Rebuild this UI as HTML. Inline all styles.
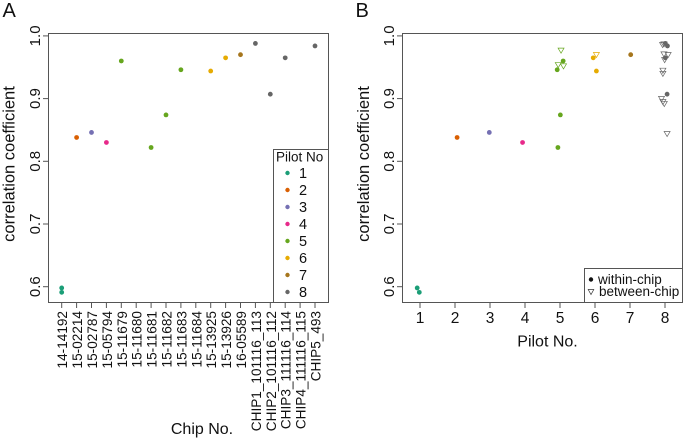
<!DOCTYPE html>
<html lang="en">
<head>
<meta charset="utf-8">
<title>Correlation coefficient by chip and pilot</title>
<style>
html,body{margin:0;padding:0;background:#fff;}
body{width:685px;height:439px;overflow:hidden;}
svg{display:block;font-family:"Liberation Sans",sans-serif;fill:#111;filter:blur(0.35px);}
</style>
</head>
<body>
<svg id="figure" width="685" height="439" viewBox="0 0 685 439" xmlns="http://www.w3.org/2000/svg">
  <text x="2.5" y="17" font-size="20">A</text>
  <text x="355.5" y="17" font-size="20">B</text>

  <rect x="48.5" y="33.5" width="280" height="269" fill="none" stroke="#555" stroke-width="1"/>
  <rect x="402.5" y="33.5" width="280" height="269" fill="none" stroke="#555" stroke-width="1"/>

  <text transform="translate(14.7,164) rotate(-90)" text-anchor="middle" font-size="16.5">correlation coefficient</text>
  <text transform="translate(368.8,164) rotate(-90)" text-anchor="middle" font-size="16.5">correlation coefficient</text>
  <text x="202" y="434" text-anchor="middle" font-size="16">Chip No.</text>
  <text x="547.5" y="346.5" text-anchor="middle" font-size="16">Pilot No.</text>

  <g id="axes"></g>
  <g id="marks-a"></g>
  <g id="marks-b"></g>

  <g id="legend-a">
    <rect x="273.5" y="149.5" width="55" height="153" fill="#fff" stroke="#555" stroke-width="1"/>
    <text x="299.7" y="161.5" text-anchor="middle" font-size="13.5">Pilot No</text>
  </g>

  <g id="legend-b">
    <rect x="584.5" y="268.5" width="98" height="34" fill="#fff" stroke="#555" stroke-width="1"/>
    <circle cx="591" cy="279.5" r="2.2" fill="#111"/>
    <text x="598" y="284" font-size="13.5">within-chip</text>
    <polygon points="588.2,289.5 593.8,289.5 591,294.5" fill="none" stroke="#333" stroke-width="0.7"/>
    <text x="599" y="296" font-size="13.5">between-chip</text>
  </g>
</svg>

<script>
// Shared data
const pilotColors = ['#1B9E77', '#D95F02', '#7570B3', '#E7298A', '#66A61E', '#E6AB02', '#A6761D', '#666666'];
const yTicks = [0.6, 0.7, 0.8, 0.9, 1.0];
const yTickLabels = ['0.6', '0.7', '0.8', '0.9', '1.0'];

// Panel A data
const chipLabels = ['14-14192', '15-02214', '15-02787', '15-05794', '15-11679', '15-11680', '15-11681', '15-11682', '15-11683', '15-11684', '15-13925', '15-13926', '16-05589', 'CHIP1_101116_113', 'CHIP2_101116_112', 'CHIP3_111116_114', 'CHIP4_111116_115', 'CHIP5_493'];
const pointChips = [0, 0, 1, 2, 3, 4, 6, 7, 8, 10, 11, 12, 13, 14, 15, 17];
const pointValues = [0.598, 0.591, 0.838, 0.846, 0.830, 0.960, 0.822, 0.874, 0.946, 0.944, 0.965, 0.970, 0.988, 0.907, 0.965, 0.984];
const pointPilots = [1, 1, 2, 3, 4, 5, 5, 5, 5, 6, 6, 7, 8, 8, 8, 8];

// Panel B data
const pilotTicks = [1, 2, 3, 4, 5, 6, 7, 8];
const withinPilotX = [0.92, 0.98, 2.06, 2.98, 3.93, 4.92, 5.09, 5.01, 4.94, 5.95, 6.04, 7.02, 8.01, 8.07, 8.01, 8.06];
const withinValues = [0.598, 0.591, 0.838, 0.846, 0.830, 0.946, 0.960, 0.874, 0.822, 0.965, 0.944, 0.970, 0.988, 0.984, 0.965, 0.907];
const withinPilots = [1, 1, 2, 3, 4, 5, 5, 5, 5, 6, 6, 7, 8, 8, 8, 8];
const betweenPilotX = [5.03, 4.95, 5.10, 6.04, 7.93, 7.97, 7.97, 8.09, 7.99, 7.94, 7.94, 7.90, 7.94, 7.98, 8.06];
const betweenValues = [0.977, 0.954, 0.952, 0.970, 0.986, 0.987, 0.971, 0.970, 0.962, 0.945, 0.940, 0.900, 0.895, 0.892, 0.844];
const betweenPilots = [5, 5, 5, 6, 8, 8, 8, 8, 8, 8, 8, 8, 8, 8, 8];

// Axis functions
const yScale = v => 286.7 - (v - 0.6) * 627;
const xChip = i => 61.7 + i * 14.9;
const xPilot = p => 420 + (p - 1) * 35;

const NS = 'http://www.w3.org/2000/svg';
function make(tag, parent) {
  const el = document.createElementNS(NS, tag);
  parent.appendChild(el);
  return el;
}
function tickLine(parent, x1, y1, x2, y2) {
  const el = make('line', parent);
  el.setAttribute('x1', x1);
  el.setAttribute('y1', y1);
  el.setAttribute('x2', x2);
  el.setAttribute('y2', y2);
  el.setAttribute('stroke', '#555');
  el.setAttribute('stroke-width', '1');
  return el;
}

const axes = document.getElementById('axes');
const marksA = document.getElementById('marks-a');
const marksB = document.getElementById('marks-b');
const legendA = document.getElementById('legend-a');

// Y axes on both panels
[48.5, 402.5].forEach(function (frameX) {
  yTicks.forEach(function (v, i) {
    const t = tickLine(axes, frameX - 5.5, yScale(v), frameX, yScale(v));
    
    
    const label = make('text', axes);
    
    
    label.setAttribute('transform', 'translate(' + (frameX - 8.3) + ',' + yScale(v) + ') rotate(-90)');
    label.setAttribute('text-anchor', 'middle');
    label.setAttribute('font-size', '15');
    label.textContent = yTickLabels[i];
  });
});

// Panel A x axis
chipLabels.forEach(function (name, i) {
  const t = tickLine(axes, xChip(i), 302.5, xChip(i), 308);
  
  
  const label = make('text', axes);
  
  
  label.setAttribute('transform', 'translate(' + (xChip(i) + 5.5) + ',311) rotate(-90)');
  label.setAttribute('text-anchor', 'end');
  label.setAttribute('font-size', '13.6');
  label.textContent = name;
});

// Panel B x axis
pilotTicks.forEach(function (p) {
  const t = tickLine(axes, xPilot(p), 302.5, xPilot(p), 308);
  
  
  const label = make('text', axes);
  
  
  label.setAttribute('x', xPilot(p));
  label.setAttribute('y', 323);
  label.setAttribute('text-anchor', 'middle');
  label.setAttribute('font-size', '15.5');
  label.textContent = p;
});

// Panel A points
pointValues.forEach(function (v, i) {
  const dot = make('circle', marksA);
  
  
  dot.setAttribute('cx', xChip(pointChips[i]));
  dot.setAttribute('cy', yScale(v));
  dot.setAttribute('r', '2.4');
  dot.setAttribute('fill', pilotColors[pointPilots[i] - 1]);
});

// Panel B between-chip triangles
betweenValues.forEach(function (v, i) {
  const cx = xPilot(betweenPilotX[i]);
  const cy = yScale(v);
  const tri = make('polygon', marksB);
  
  
  tri.setAttribute('points', (cx - 3) + ',' + (cy - 2.2) + ' ' + (cx + 3) + ',' + (cy - 2.2) + ' ' + cx + ',' + (cy + 2.9));
  tri.setAttribute('fill', 'none');
  tri.setAttribute('stroke', pilotColors[betweenPilots[i] - 1]);
  tri.setAttribute('stroke-width', '0.7');
});

// Panel B within-chip points
withinValues.forEach(function (v, i) {
  const dot = make('circle', marksB);
  
  
  dot.setAttribute('cx', xPilot(withinPilotX[i]));
  dot.setAttribute('cy', yScale(v));
  dot.setAttribute('r', '2.4');
  dot.setAttribute('fill', pilotColors[withinPilots[i] - 1]);
});

// Pilot legend entries
pilotColors.forEach(function (color, i) {
  const rowY = 173 + i * 17;
  const swatch = make('circle', legendA);
  
  
  swatch.setAttribute('cx', 287.5);
  swatch.setAttribute('cy', rowY);
  swatch.setAttribute('r', '2.2');
  swatch.setAttribute('fill', color);
  const label = make('text', legendA);
  
  
  label.setAttribute('x', 303);
  label.setAttribute('y', rowY + 5);
  label.setAttribute('text-anchor', 'middle');
  label.setAttribute('font-size', '14.5');
  label.textContent = i + 1;
});
</script>
</body>
</html>
